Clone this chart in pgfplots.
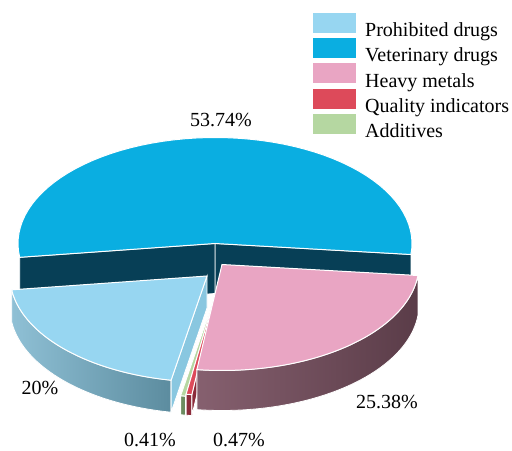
\documentclass[border=0pt]{standalone}
\usepackage{pgfplots}
\pgfplotsset{compat=1.18}
\usepackage{pgfplotstable}
\usepackage{fontspec}
\setmainfont{Liberation Serif}

\definecolor{cP}{HTML}{97D6F1}
\definecolor{cPsL}{HTML}{8FC0D5}
\definecolor{cPsR}{HTML}{5C8C9F}
\definecolor{cPc}{HTML}{89C7E0}
\definecolor{cV}{HTML}{0AAEE1}
\definecolor{cVw}{HTML}{073F56}
\definecolor{cH}{HTML}{E9A5C3}
\definecolor{cHsL}{HTML}{86606F}
\definecolor{cHsR}{HTML}{5A3C48}
\definecolor{cQ}{HTML}{DD4A5A}
\definecolor{cQs}{HTML}{8C2C3B}
\definecolor{cA}{HTML}{B5D7A1}
\definecolor{cAs}{HTML}{6C8C60}

% share (%), explode offset dx, dy (px), visible thickness h (px)
\pgfplotstableread{
key value dx dy h
P 20 -8 32.5 32
V 53.74 0 0 50
H 25.38 7 21 40
Q 0.47 2 46 21
A 0.41 1.5 48 19
}\piedata

\def\rx{197}%
\def\ry{106}%
\def\CX{215}%
\def\CY{243.5}%
\def\S{259.5}%

\newcommand\loadslice[2]{%
  \pgfplotstablegetelem{#1}{value}\of\piedata
  \expandafter\let\csname v#2\endcsname\pgfplotsretval
  \pgfplotstablegetelem{#1}{dx}\of\piedata
  \pgfmathsetmacro\tmp{\CX+\pgfplotsretval}%
  \expandafter\let\csname X#2\endcsname\tmp
  \pgfplotstablegetelem{#1}{dy}\of\piedata
  \pgfmathsetmacro\tmp{\CY+\pgfplotsretval}%
  \expandafter\let\csname Y#2\endcsname\tmp
  \pgfplotstablegetelem{#1}{h}\of\piedata
  \expandafter\let\csname h#2\endcsname\pgfplotsretval
}
\loadslice{0}{P}\loadslice{1}{V}\loadslice{2}{H}\loadslice{3}{Q}\loadslice{4}{A}

\pgfmathsetmacro\PaTwo{\S}%
\pgfmathsetmacro\PaOne{\S-3.6*\vP}%
\pgfmathsetmacro\VaTwo{\PaOne}%
\pgfmathsetmacro\VaOne{\PaOne-3.6*\vV}%
\pgfmathsetmacro\HaTwo{\VaOne+360}%
\pgfmathsetmacro\HaOne{\HaTwo-3.6*\vH}%
\pgfmathsetmacro\QaTwo{\HaOne}%
\pgfmathsetmacro\QaOne{\QaTwo-3.6*\vQ}%
\pgfmathsetmacro\AaTwo{\QaOne}%
\pgfmathsetmacro\AaOne{\AaTwo-3.6*\vA}%

\newcommand\sideface[7]{%
  \addplot[forget plot, left color=#6, right color=#7, draw=white, line width=0.8pt,
    domain=#3:#4, samples=40, variable=\t]
    ({#1+\rx*cos(\t)},{#2-\ry*sin(\t)}) -- ++(0pt,-#5pt)
    arc[start angle=#4, end angle=#3, x radius=\rx pt, y radius=\ry pt] -- cycle;}
\newcommand\topface[5]{%
  \addplot[forget plot, fill=#5, draw=white, line width=1pt,
    domain=#3:#4, samples=60, variable=\t]
    ({#1+\rx*cos(\t)},{#2-\ry*sin(\t)}) -- (axis cs:#1,#2) -- cycle;}
\newcommand\cutface[5]{%
  \filldraw[fill=#5, draw=white, line width=0.8pt]
    (axis cs:#1,#2) -- (axis cs:{#1+\rx*cos(#3)},{#2-\ry*sin(#3)})
    -- (axis cs:{#1+\rx*cos(#3)},{#2-\ry*sin(#3)+#4}) -- (axis cs:#1,{#2+#4}) -- cycle;}

\begin{document}
\begin{tikzpicture}[font=\fontsize{20}{24}\selectfont]
\begin{axis}[
  scale only axis, width=512pt, height=448pt,
  xmin=0, xmax=512, ymin=0, ymax=448, y dir=reverse,
  hide axis, clip=false,
  legend style={at={(axis cs:313,13)}, anchor=north west, draw=none, fill=none,
    inner sep=0pt, outer sep=0pt, row sep=0pt, column sep=0pt,
    font=\fontsize{20}{24}\selectfont, nodes={inner sep=0pt}},
  legend cell align=left,
  legend image code/.code={\path[#1, draw=none] (0pt,-2.5pt) rectangle (43pt,17.5pt); \path (52pt,0pt);},
]
\path (axis cs:0,0) rectangle (axis cs:512,448);
\addlegendimage{fill=cP}\addlegendentry{Prohibited drugs}
\addlegendimage{fill=cV}\addlegendentry{Veterinary drugs}
\addlegendimage{fill=cH}\addlegendentry{Heavy metals}
\addlegendimage{fill=cQ}\addlegendentry{Quality indicators}
\addlegendimage{fill=cA}\addlegendentry{Additives}

% Veterinary drugs (back slice, cut walls)
\cutface{\XV}{\YV}{\VaOne}{\hV}{cVw}
\cutface{\XV}{\YV}{\VaTwo}{\hV}{cVw}
\topface{\XV}{\YV}{\VaOne}{\VaTwo}{cV}
% Prohibited drugs
\sideface{\XP}{\YP}{\PaOne}{\PaTwo}{\hP}{cPsL}{cPsR}
\cutface{\XP}{\YP}{\PaTwo}{\hP}{cPc}
\topface{\XP}{\YP}{\PaOne}{\PaTwo}{cP}
% Additives
\sideface{\XA}{\YA}{\AaOne}{\AaTwo}{\hA}{cAs}{cAs}
\cutface{\XA}{\YA}{\AaTwo}{\hA}{cAs}
\topface{\XA}{\YA}{\AaOne}{\AaTwo}{cA}
% Quality indicators
\sideface{\XQ}{\YQ}{\QaOne}{\QaTwo}{\hQ}{cQs}{cQs}
\cutface{\XQ}{\YQ}{\QaTwo}{\hQ}{cQs}
\topface{\XQ}{\YQ}{\QaOne}{\QaTwo}{cQ}
% Heavy metals
\sideface{\XH}{\YH}{\HaOne}{\HaTwo}{\hH}{cHsL}{cHsR}
\topface{\XH}{\YH}{\HaOne}{\HaTwo}{cH}

% labels
\node at (axis cs:221,120) {53.74\%};
\node at (axis cs:40,388) {20\%};
\node at (axis cs:150,440) {0.41\%};
\node at (axis cs:239,440) {0.47\%};
\node at (axis cs:387,402) {25.38\%};
\end{axis}
\end{tikzpicture}
\end{document}
